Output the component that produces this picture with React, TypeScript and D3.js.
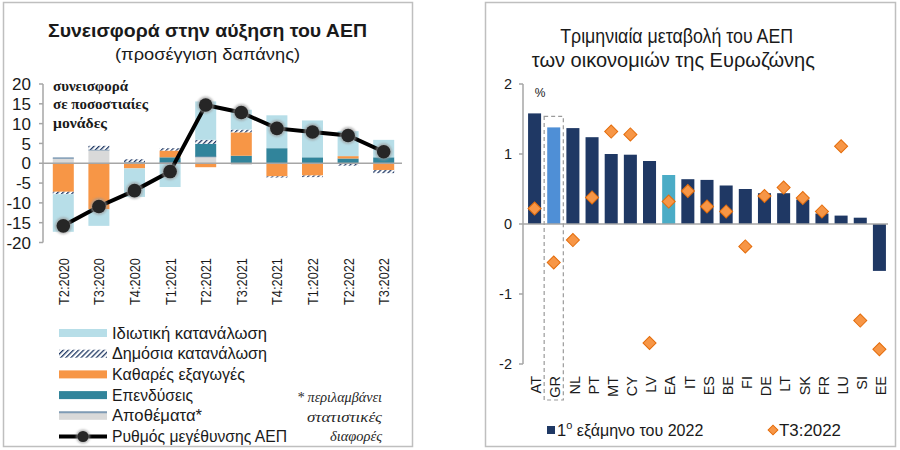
import React from 'react';
import * as d3 from 'd3';

// ---------- Left chart data ----------
const quarters = ['T2:2020', 'T3:2020', 'T4:2020', 'T1:2021', 'T2:2021', 'T3:2021', 'T4:2021', 'T1:2022', 'T2:2022', 'T3:2022'];
const inventories = [1.3, 3.4, 0.3, 0.2, 1.7, -0.4, 0, 0, -0.2, 0];
const investment = [0, 0, 0, 1.3, 3.2, 1.9, 3.8, 1.5, 1.2, 1.5];
const netExports = [-7.2, -11.6, -1.3, 1.7, -1.0, 5.9, -3.3, -3.1, 0.6, -1.7];
const publicCons = [-0.6, 1.0, 0.7, 0.6, 1.0, 0.7, -0.3, -0.4, -0.4, -0.8];
const privateCons = [-9.5, -4.2, -7.2, -6.0, 9.7, 5.0, 8.3, 9.3, 6.3, 4.4];
const gdpGrowth = [-15.8, -10.9, -6.9, -2.1, 14.7, 12.8, 8.8, 7.9, 7.0, 2.9];
const leftTicks = [20, 15, 10, 5, 0, -5, -10, -15, -20];

// ---------- Right chart data ----------
const countries = ['AT', 'GR', 'NL', 'PT', 'MT', 'CY', 'LV', 'EA', 'IT', 'ES', 'BE', 'FI', 'DE', 'LT', 'SK', 'FR', 'LU', 'SI', 'EE'];
const h1of2022 = [1.58, 1.38, 1.37, 1.24, 1.0, 0.99, 0.9, 0.7, 0.64, 0.63, 0.55, 0.5, 0.44, 0.44, 0.35, 0.15, 0.12, 0.09, -0.67];
const q3of2022 = [0.22, -0.55, -0.23, 0.38, 1.32, 1.28, -1.7, 0.32, 0.47, 0.25, 0.18, -0.32, 0.4, 0.52, 0.37, 0.18, 1.11, -1.38, -1.79];
const rightTicks = [2, 1, 0, -1, -2];

const FONT = "'Liberation Sans', Arial, sans-serif";
const SERIF = "'Liberation Serif', 'DejaVu Serif', serif";

const C_PRIV = '#B7DEE8';
const C_PUB = '#1F3864';
const C_NX = '#F79646';
const C_INV = '#31849B';
const C_STK = '#D9D9D9';
const C_STK_LINE = '#7F9BB5';
const C_AXIS = '#A6A6A6';
const C_NAVY = '#1F3864';
const C_GR = '#4F8FD6';
const C_EA = '#4BACC6';
const C_TXT = '#1a1a1a';

const keys = ['inventories', 'investment', 'netExports', 'publicCons', 'privateCons'];
const fills: Record<string, string> = {
  inventories: C_STK,
  investment: C_INV,
  netExports: C_NX,
  publicCons: 'url(#hatch)',
  privateCons: C_PRIV,
};

export default function App() {
  // Left scales
  const yL = d3.scaleLinear().domain([-20, 20]).range([242.5, 84]);
  const xL = d3.scaleBand<string>().domain(quarters).range([45.5, 401.5]).paddingInner(0.41).paddingOuter(0.205);
  const rows = quarters.map((q, i) => ({
    q,
    inventories: inventories[i],
    investment: investment[i],
    netExports: netExports[i],
    publicCons: publicCons[i],
    privateCons: privateCons[i],
  }));
  const stacked = d3.stack<any>().keys(keys).offset(d3.stackOffsetDiverging)(rows);
  const gdpLine = d3
    .line<number>()
    .x((_, i) => (xL(quarters[i]) as number) + xL.bandwidth() / 2)
    .y((v) => yL(v));

  // Right scales
  const yR = d3.scaleLinear().domain([-2, 2]).range([364, 84]);
  const xR = d3.scaleBand<string>().domain(countries).range([525, 889]).paddingInner(0.32).paddingOuter(0.16);
  const diamond = d3.symbol().type(d3.symbolSquare).size(85)();
  const diamondSmall = d3.symbol().type(d3.symbolSquare).size(48)();
  const barColor = (c: string) => (c === 'GR' ? C_GR : c === 'EA' ? C_EA : C_NAVY);

  const grX = xR('GR') as number;
  const grGap = (xR.step() - xR.bandwidth()) / 2;

  const legendLeft = [
    { label: 'Ιδιωτική κατανάλωση', kind: 'privateCons', w: 155 },
    { label: 'Δημόσια κατανάλωση', kind: 'publicCons', w: 155 },
    { label: 'Καθαρές εξαγωγές', kind: 'netExports', w: 133 },
    { label: 'Επενδύσεις', kind: 'investment', w: 81 },
    { label: 'Αποθέματα*', kind: 'inventories', w: 90 },
    { label: 'Ρυθμός μεγέθυνσης ΑΕΠ', kind: 'gdp', w: 175 },
  ];

  return (
    <svg
      width={900}
      height={450}
      style={{ position: 'absolute', left: 0, top: 0, background: '#fff' }}
      fontFamily={FONT}
    >
      <defs>
        <pattern id="hatch" width="3.6" height="3.6" patternUnits="userSpaceOnUse" patternTransform="rotate(45)">
          <rect width="3.6" height="3.6" fill="#ffffff" />
          <line x1="0" y1="0" x2="0" y2="3.6" stroke={C_PUB} strokeWidth="2.6" />
        </pattern>
        <filter id="halo" x="-50%" y="-50%" width="200%" height="200%">
          <feGaussianBlur stdDeviation="0.8" />
        </filter>
      </defs>
      <rect x={0} y={0} width={900} height={450} fill="#fff" />

      {/* ================= LEFT PANEL ================= */}
      <rect x={3.5} y={2.5} width={409} height={444} fill="none" stroke="#BFBFBF" strokeWidth={1.5} />
      <text x={207.5} y={37} textAnchor="middle" fontSize={19} fontWeight="bold" fill={C_TXT} textLength={319} lengthAdjust="spacingAndGlyphs">
        Συνεισφορά στην αύξηση του ΑΕΠ
      </text>
      <text x={207.5} y={60} textAnchor="middle" fontSize={17} fill={C_TXT} textLength={185} lengthAdjust="spacingAndGlyphs">
        (προσέγγιση δαπάνης)
      </text>

      {/* y axis */}
      <line x1={43} x2={43} y1={yL(20)} y2={yL(-20)} stroke={C_AXIS} strokeWidth={1.5} />
      {leftTicks.map((t) => (
        <g key={t}>
          <line x1={39} x2={43} y1={yL(t)} y2={yL(t)} stroke={C_AXIS} strokeWidth={1.5} />
          <text x={31} y={yL(t)} dy="0.36em" textAnchor="end" fontSize={17} fill={C_TXT}>
            {t}
          </text>
        </g>
      ))}

      {/* stacked bars */}
      {stacked.map((layer) => (
        <g key={layer.key}>
          {layer.map((d: any, i: number) => {
            const y0 = yL(d[0]);
            const y1 = yL(d[1]);
            const h = Math.abs(y0 - y1);
            if (h < 0.01) return null;
            const x = xL(quarters[i]) as number;
            const top = Math.min(y0, y1);
            return (
              <g key={i}>
                <rect x={x} y={top} width={xL.bandwidth()} height={h} fill={fills[layer.key]} />
                {layer.key === 'inventories' && d[1] > 0 && (
                  <line x1={x} x2={x + xL.bandwidth()} y1={y1} y2={y1} stroke={C_STK_LINE} strokeWidth={1.5} />
                )}
              </g>
            );
          })}
        </g>
      ))}

      {/* zero line */}
      <line x1={43} x2={402} y1={yL(0)} y2={yL(0)} stroke={C_AXIS} strokeWidth={1.5} />

      {/* GDP line */}
      <path d={gdpLine(gdpGrowth) as string} fill="none" stroke="#000" strokeWidth={4} />
      {gdpGrowth.map((v, i) => {
        const cx = (xL(quarters[i]) as number) + xL.bandwidth() / 2;
        return (
          <g key={i}>
            <circle cx={cx} cy={yL(v)} r={8.5} fill="#9a9a9a" opacity={0.7} filter="url(#halo)" />
            <circle cx={cx} cy={yL(v)} r={6.8} fill="#262626" />
          </g>
        );
      })}

      {/* annotation */}
      {['συνεισφορά', 'σε ποσοστιαίες', 'μονάδες'].map((s, i) => (
        <text key={s} x={53} y={90.5 + i * 18.7} fontFamily={SERIF} fontWeight="bold" fontSize={15} fill={C_TXT}
          textLength={[75, 95, 54][i]} lengthAdjust="spacingAndGlyphs">
          {s}
        </text>
      ))}

      {/* x labels */}
      {quarters.map((q) => {
        const cx = (xL(q) as number) + xL.bandwidth() / 2;
        return (
          <text key={q} transform={`translate(${cx},258) rotate(-90)`} textAnchor="end" dy="0.36em" fontSize={15} fill={C_TXT}
            textLength={47} lengthAdjust="spacingAndGlyphs">
            {q}
          </text>
        );
      })}

      {/* left legend */}
      {legendLeft.map((it, i) => {
        const cy = 333 + i * 20.7;
        const x0 = 59;
        const x1 = 107;
        let sw: React.ReactNode;
        if (it.kind === 'gdp') {
          sw = (
            <g>
              <line x1={x0} x2={x1} y1={cy} y2={cy} stroke="#000" strokeWidth={4} />
              <circle cx={(x0 + x1) / 2} cy={cy} r={7} fill="#9a9a9a" opacity={0.7} filter="url(#halo)" />
              <circle cx={(x0 + x1) / 2} cy={cy} r={5.5} fill="#262626" />
            </g>
          );
        } else if (it.kind === 'inventories') {
          sw = (
            <g>
              <rect x={x0} y={cy - 4} width={x1 - x0} height={8} fill={C_STK} />
              <line x1={x0} x2={x1} y1={cy - 3.5} y2={cy - 3.5} stroke={C_STK_LINE} strokeWidth={2} />
            </g>
          );
        } else {
          sw = <rect x={x0} y={cy - 4} width={x1 - x0} height={8} fill={fills[it.kind]} />;
        }
        return (
          <g key={it.label}>
            {sw}
            <text x={112} y={cy + 5.5} fontSize={16.5} fill={C_TXT} textLength={it.w} lengthAdjust="spacingAndGlyphs">
              {it.label}
            </text>
          </g>
        );
      })}

      {/* footnote */}
      {['* περιλαμβάνει', 'στατιστικές', 'διαφορές'].map((s, i) => (
        <text key={s} x={382} y={402 + i * 19.5} textAnchor="end" fontFamily={SERIF} fontStyle="italic" fontSize={14.5} fill="#262626"
          textLength={[85, 75, 52][i]} lengthAdjust="spacingAndGlyphs">
          {s}
        </text>
      ))}

      {/* ================= RIGHT PANEL ================= */}
      <rect x={485.5} y={2.5} width={410} height={444} fill="none" stroke="#BFBFBF" strokeWidth={1.5} />
      <text x={676.7} y={43} textAnchor="middle" fontSize={19.5} fill={C_TXT} textLength={233} lengthAdjust="spacingAndGlyphs">
        Τριμηνιαία μεταβολή του ΑΕΠ
      </text>
      <text x={673.3} y={66.5} textAnchor="middle" fontSize={19.5} fill={C_TXT} textLength={283} lengthAdjust="spacingAndGlyphs">
        των οικονομιών της Ευρωζώνης
      </text>

      {/* y axis */}
      <line x1={523} x2={523} y1={yR(2)} y2={yR(-2)} stroke={C_AXIS} strokeWidth={1.5} />
      {rightTicks.map((t) => (
        <g key={t}>
          <line x1={519} x2={523} y1={yR(t)} y2={yR(t)} stroke={C_AXIS} strokeWidth={1.5} />
          <text x={512} y={yR(t)} dy="0.36em" textAnchor="end" fontSize={14.5} fill={C_TXT}>
            {t}
          </text>
        </g>
      ))}
      <text x={540} y={97} textAnchor="middle" fontSize={12} fill={C_TXT}>
        %
      </text>

      {/* bars */}
      {countries.map((c, i) => {
        const v = h1of2022[i];
        const y0 = yR(0);
        const y1 = yR(v);
        return (
          <rect key={c} x={xR(c)} y={Math.min(y0, y1)} width={xR.bandwidth()} height={Math.abs(y1 - y0)} fill={barColor(c)} />
        );
      })}

      {/* zero line */}
      <line x1={523} x2={888} y1={yR(0)} y2={yR(0)} stroke={C_AXIS} strokeWidth={1.5} />

      {/* dashed GR box */}
      <rect
        x={grX - grGap}
        y={yR(h1of2022[1]) - 11}
        width={xR.bandwidth() + 2 * grGap}
        height={400 - (yR(h1of2022[1]) - 11)}
        fill="none"
        stroke="#9a9a9a"
        strokeWidth={1.2}
        strokeDasharray="4,3"
      />

      {/* diamonds */}
      {countries.map((c, i) => {
        const cx = (xR(c) as number) + xR.bandwidth() / 2;
        return (
          <path key={c} d={diamond as string} transform={`translate(${cx},${yR(q3of2022[i])}) rotate(45)`} fill={C_NX} stroke="#E46C0A" strokeWidth={1} />
        );
      })}

      {/* x labels */}
      {countries.map((c) => {
        const cx = (xR(c) as number) + xR.bandwidth() / 2 + 1.5;
        return (
          <text key={c} transform={`translate(${cx},376) rotate(-90)`} textAnchor="end" dy="0.36em" fontSize={14.5} fill={C_TXT}>
            {c}
          </text>
        );
      })}

      {/* right legend */}
      <rect x={547} y={426} width={8} height={8} fill={C_NAVY} />
      <text x={557} y={436} fontSize={16.5} fill={C_TXT}>
        <tspan>1</tspan>
        <tspan dy={-7} fontSize={11}>ο</tspan>
        <tspan dy={7} textLength={131} lengthAdjust="spacingAndGlyphs"> εξάμηνο του 2022</tspan>
      </text>
      <path d={diamondSmall as string} transform="translate(773,430) rotate(45)" fill={C_NX} stroke="#E46C0A" strokeWidth={1} />
      <text x={779} y={436} fontSize={16.5} fill={C_TXT} textLength={62} lengthAdjust="spacingAndGlyphs">
        T3:2022
      </text>
    </svg>
  );
}
